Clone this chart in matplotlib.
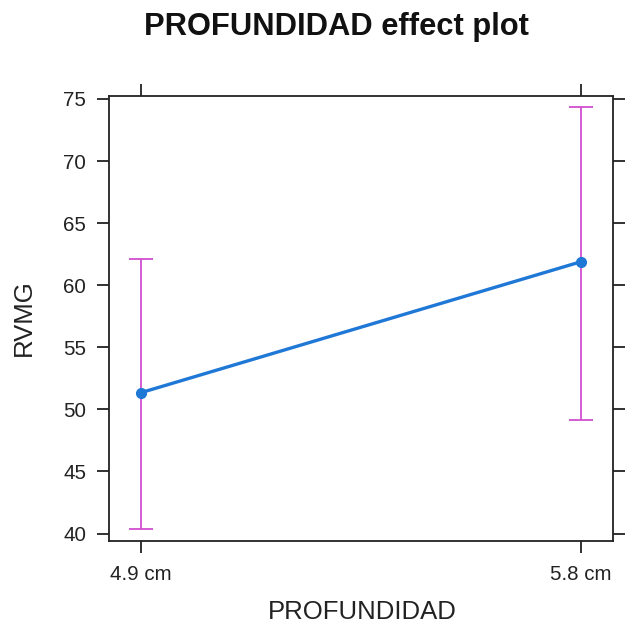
import numpy as np
import matplotlib.pyplot as plt

plt.rcParams['font.family'] = ['Liberation Sans', 'DejaVu Sans']

# effect estimates and confidence limits per level
levels = ['4.9 cm', '5.8 cm']
fit = [51.35, 61.89]
lower = [40.38, 49.18]
upper = [62.13, 74.38]
y_ticks = [40, 45, 50, 55, 60, 65, 70, 75]

fig = plt.figure(figsize=(6.25, 6.31), dpi=100)
ax = fig.add_axes([109 / 625, 1 - 540.5 / 631, 504 / 625, 444.5 / 631])

x = np.arange(1, len(levels) + 1)
fit = np.array(fit)
lower = np.array(lower)
upper = np.array(upper)

ax.errorbar(x, fit, yerr=[fit - lower, upper - fit], fmt='none',
            ecolor='#d04fd0', elinewidth=1.3, capsize=8.3, capthick=1.3)
ax.plot(x, fit, color='#1f78d6', lw=2.4, marker='o', ms=7, zorder=3)

ax.set_xlim(0.927, 2.073)
ax.set_ylim(39.44, 75.24)
ax.set_xticks(x)
ax.set_xticklabels(levels)
ax.set_yticks(y_ticks)

ax.tick_params(direction='out', length=8.5, width=1.3, labelsize=14.8,
               top=True, right=True, labeltop=False, labelright=False,
               colors='#222222')
ax.tick_params(axis='y', pad=8)
ax.tick_params(axis='x', pad=9)
for s in ax.spines.values():
    s.set_linewidth(1.3)
    s.set_color('#222222')

fig.text(24 / 625, 1 - 318 / 631, 'RVMG', rotation=90, ha='center',
         va='center', fontsize=18.5, color='#222222')
fig.text(362 / 625, 1 - 612 / 631, 'PROFUNDIDAD', ha='center',
         va='center', fontsize=18.5, color='#222222')
fig.text(336 / 625, 1 - 27 / 631, 'PROFUNDIDAD effect plot', ha='center',
         va='center', fontsize=22.2, fontweight='bold', color='#111111')

fig.savefig('out.png', dpi=100)
